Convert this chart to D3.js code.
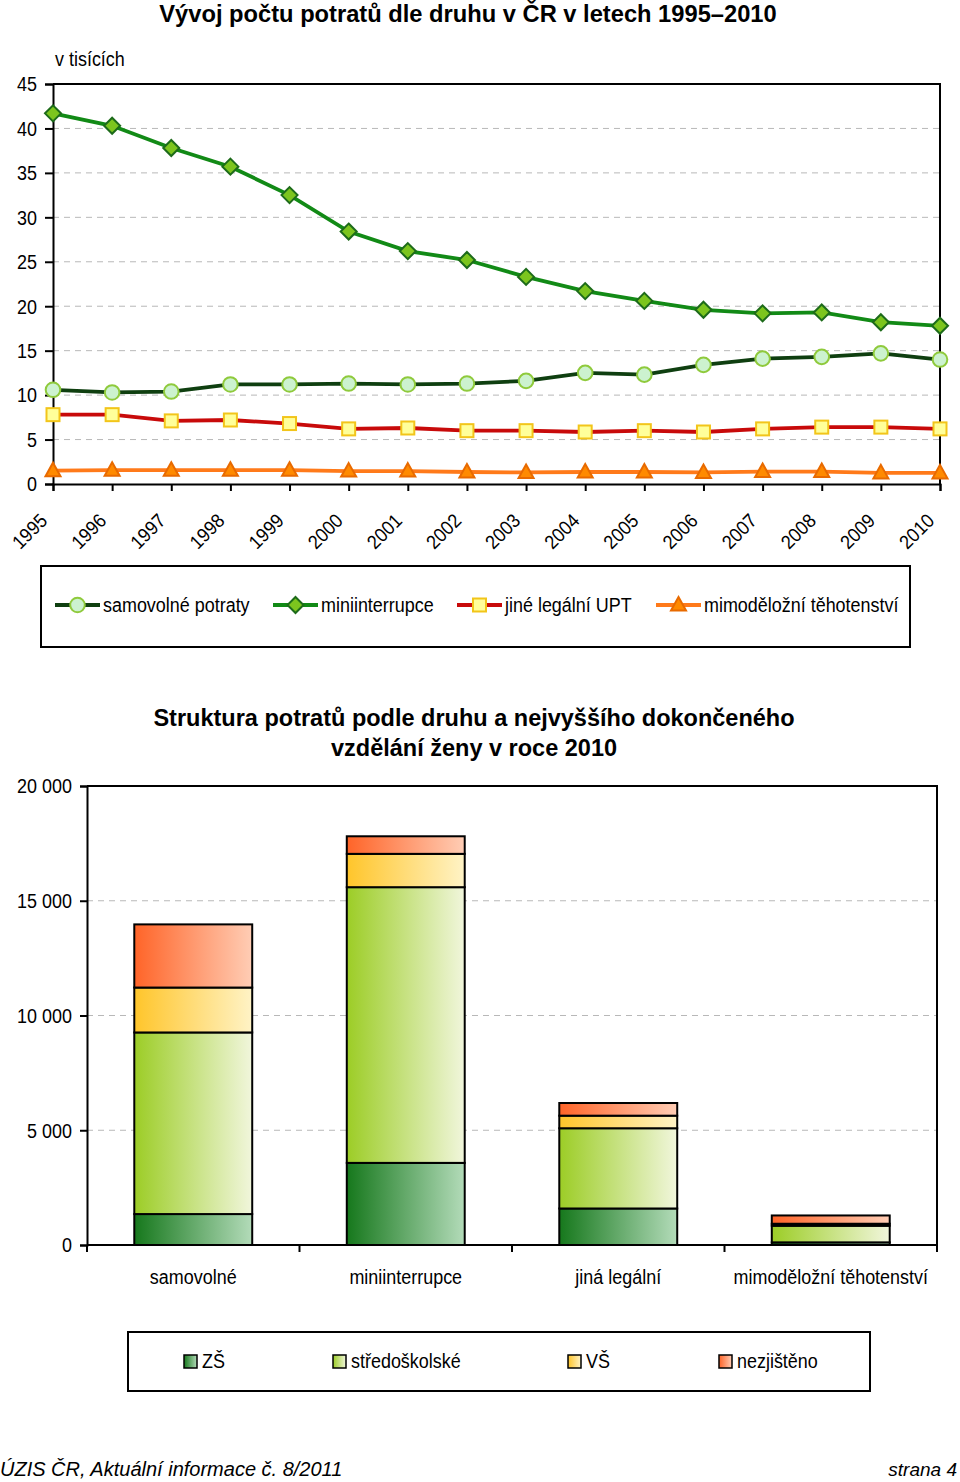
<!DOCTYPE html>
<html><head><meta charset="utf-8">
<script src="https://cdn.jsdelivr.net/npm/d3@7"></script>
<style>
body{margin:0;background:#fff;}
svg{display:block;}
.nar{font-family:"Liberation Sans",Arial,sans-serif;}
.bold{font-family:"Liberation Sans",Arial,sans-serif;font-weight:bold;}
</style></head>
<body>
<svg id="c" width="960" height="1482"></svg>
<script>
// ---------- DATA ----------
const years = [1995,1996,1997,1998,1999,2000,2001,2002,2003,2004,2005,2006,2007,2008,2009,2010];
const samovolne = [10.6,10.3,10.4,11.2,11.2,11.3,11.2,11.3,11.6,12.5,12.3,13.4,14.1,14.3,14.7,14.0];
const miniinterrupce = [41.7,40.3,37.8,35.7,32.5,28.4,26.2,25.2,23.3,21.7,20.6,19.6,19.2,19.3,18.2,17.8];
const jineLegalni = [7.8,7.8,7.1,7.2,6.8,6.2,6.3,6.0,6.0,5.85,6.0,5.85,6.2,6.4,6.4,6.2];
const mimodelozni = [1.5,1.55,1.55,1.55,1.55,1.45,1.45,1.35,1.3,1.35,1.35,1.3,1.4,1.4,1.25,1.25];
const lineSeriesNames = ["samovolné potraty","miniinterrupce","jiné legální UPT","mimoděložní těhotenství"];
const yTicksTop = [0,5,10,15,20,25,30,35,40,45];

const barCategories = ["samovolné","miniinterrupce","jiná legální","mimoděložní těhotenství"];
const educNames = ["ZŠ","středoškolské","VŠ","nezjištěno"];
const zs = [1348,3578,1591,115];
const ss = [7913,12013,3496,724];
const vs = [1957,1452,548,87];
const nezj = [2752,766,552,361];
const yTicksBar = [0,5000,10000,15000,20000];

const svg = d3.select("#c");

// ---------- TOP CHART ----------
svg.append("text").attr("class","bold").attr("x",468).attr("y",22).attr("text-anchor","middle")
  .attr("font-size",23.7).attr("fill","#000").text("Vývoj počtu potratů dle druhu v ČR v letech 1995–2010");
svg.append("text").attr("class","nar").attr("x",55).attr("y",66).attr("font-size",19.5).text("v tisících");

const L = {l:53,r:940,t:84,b:484};
const x = d3.scalePoint().domain(years).range([L.l,L.r]);
const y = d3.scaleLinear().domain([0,45]).range([L.b,L.t]);

const gTop = svg.append("g");
gTop.selectAll("line.grid").data(yTicksTop.filter(d=>d>0&&d<45)).enter().append("line")
  .attr("x1",L.l).attr("x2",L.r).attr("y1",d=>y(d)).attr("y2",d=>y(d))
  .attr("stroke","#b8b8b8").attr("stroke-width",1).attr("stroke-dasharray","6,5");
gTop.append("path").attr("d",`M${L.l},${L.t}H${L.r}V${L.b}`).attr("fill","none").attr("stroke","#000").attr("stroke-width",2);

const yAxis = d3.axisLeft(y).tickValues(yTicksTop).tickSize(8).tickFormat(d3.format("d"));
const ya = gTop.append("g").attr("transform",`translate(${L.l},0)`).call(yAxis);
ya.select(".domain").attr("stroke","#000").attr("stroke-width",2);
ya.selectAll(".tick line").attr("stroke","#000").attr("stroke-width",2);
ya.selectAll(".tick text").attr("class","nar").attr("font-size",19.5).attr("fill","#000").attr("x",-16).attr("dy","0.35em");

const xAxis = d3.axisBottom(x).tickSize(7);
const xa = gTop.append("g").attr("transform",`translate(0,${L.b})`).call(xAxis);
xa.select(".domain").attr("stroke","#000").attr("stroke-width",2);
xa.selectAll(".tick line").attr("stroke","#000").attr("stroke-width",2);
xa.selectAll(".tick text").attr("class","nar").attr("font-size",19.5).attr("fill","#000")
  .attr("text-anchor","end").attr("transform","translate(-5,38) rotate(-45)").attr("x",0).attr("y",0).attr("dy",0);

const seriesDefs = [
  {name:lineSeriesNames[0], data:samovolne, line:"#0f3f10", sym:"circle", fill:"#ccf2cf", stroke:"#8fca3c"},
  {name:lineSeriesNames[1], data:miniinterrupce, line:"#128a16", sym:"diamond", fill:"#7cc51e", stroke:"#1d6b1a"},
  {name:lineSeriesNames[2], data:jineLegalni, line:"#c80a0a", sym:"square", fill:"#ffff9a", stroke:"#f2c51a"},
  {name:lineSeriesNames[3], data:mimodelozni, line:"#ff7a1a", sym:"triangle", fill:"#ff8a00", stroke:"#e86a00"}
];
function drawSym(g, sym, cx, cy){
  if(sym==="circle") g.append("circle").attr("cx",cx).attr("cy",cy).attr("r",7.3);
  else if(sym==="diamond") g.append("path").attr("d",`M${cx},${cy-8}L${cx+8},${cy}L${cx},${cy+8}L${cx-8},${cy}Z`);
  else if(sym==="square") g.append("rect").attr("x",cx-6.5).attr("y",cy-6.5).attr("width",13).attr("height",13);
  else g.append("path").attr("d",`M${cx},${cy-8}L${cx+7.5},${cy+5.5}L${cx-7.5},${cy+5.5}Z`);
}
const lineGen = d3.line().x((d,i)=>x(years[i])).y(d=>y(d));
seriesDefs.slice().reverse().forEach(s=>{
  gTop.append("path").attr("d",lineGen(s.data)).attr("fill","none").attr("stroke",s.line).attr("stroke-width",3.8);
  const mg = gTop.append("g").attr("fill",s.fill).attr("stroke",s.stroke).attr("stroke-width",2);
  s.data.forEach((v,i)=>drawSym(mg,s.sym,x(years[i]),y(v)));
});

// legend top
svg.append("rect").attr("x",41).attr("y",566).attr("width",869).attr("height",81).attr("fill","#fff").attr("stroke","#000").attr("stroke-width",2);
const legX = [55,273,457,656];
seriesDefs.forEach((s,i)=>{
  const g = svg.append("g");
  g.append("line").attr("x1",legX[i]).attr("x2",legX[i]+45).attr("y1",605).attr("y2",605).attr("stroke",s.line).attr("stroke-width",3.8);
  const mg = g.append("g").attr("fill",s.fill).attr("stroke",s.stroke).attr("stroke-width",2);
  drawSym(mg,s.sym,legX[i]+22.5,605);
  g.append("text").attr("class","nar").attr("x",legX[i]+48).attr("y",605).attr("dy","0.35em").attr("font-size",19.5).text(s.name);
});

// ---------- BAR CHART ----------
svg.append("text").attr("class","bold").attr("x",474).attr("y",726).attr("text-anchor","middle").attr("font-size",23.5).text("Struktura potratů podle druhu a nejvyššího dokončeného");
svg.append("text").attr("class","bold").attr("x",474).attr("y",756).attr("text-anchor","middle").attr("font-size",23.5).text("vzdělání ženy v roce 2010");

const B = {l:87,r:937,t:786,b:1245};
const xb = d3.scaleBand().domain(barCategories).range([B.l,B.r]).paddingInner(0.445).paddingOuter(0.2225);
const yb = d3.scaleLinear().domain([0,20000]).range([B.b,B.t]);

const defs = svg.append("defs");
const grads = [["#16781c","#b3dbb9"],["#9ccd26","#f1f6dc"],["#ffc52a","#fff3c6"],["#ff6428","#ffcdb5"]];
grads.forEach((c,i)=>{
  const gr = defs.append("linearGradient").attr("id","g"+i).attr("x1","0").attr("x2","1").attr("y1","0").attr("y2","0");
  gr.append("stop").attr("offset","0").attr("stop-color",c[0]);
  gr.append("stop").attr("offset","1").attr("stop-color",c[1]);
});

const gBar = svg.append("g");
gBar.selectAll("line.grid").data(yTicksBar.filter(d=>d>0&&d<20000)).enter().append("line")
  .attr("x1",B.l).attr("x2",B.r).attr("y1",d=>yb(d)).attr("y2",d=>yb(d))
  .attr("stroke","#b8b8b8").attr("stroke-width",1).attr("stroke-dasharray","6,5");
gBar.append("path").attr("d",`M${B.l},${B.t}H${B.r}V${B.b}`).attr("fill","none").attr("stroke","#000").attr("stroke-width",2);

const yba = gBar.append("g").attr("transform",`translate(${B.l},0)`)
  .call(d3.axisLeft(yb).tickValues(yTicksBar).tickSize(7).tickFormat(d=>d3.format(",")(d).replace(/,/g," ")));
yba.select(".domain").attr("stroke","#000").attr("stroke-width",2);
yba.selectAll(".tick line").attr("stroke","#000").attr("stroke-width",2);
yba.selectAll(".tick text").attr("class","nar").attr("font-size",19.5).attr("fill","#000").attr("x",-15).attr("dy","0.35em");

const stackData = barCategories.map((c,i)=>({cat:c, ZS:zs[i], SS:ss[i], VS:vs[i], NZ:nezj[i]}));
const stack = d3.stack().keys(["ZS","SS","VS","NZ"])(stackData);
stack.forEach((layer,k)=>{
  gBar.selectAll(null).data(layer).enter().append("rect")
    .attr("x",d=>xb(d.data.cat)).attr("width",xb.bandwidth())
    .attr("y",d=>yb(d[1])).attr("height",d=>yb(d[0])-yb(d[1]))
    .attr("fill",`url(#g${k})`).attr("stroke","#000").attr("stroke-width",2);
});

gBar.append("line").attr("x1",B.l).attr("x2",B.r).attr("y1",B.b).attr("y2",B.b).attr("stroke","#000").attr("stroke-width",2);
const step = xb.step();
const bounds = barCategories.map(c=>xb(c) - (step-xb.bandwidth())/2).concat([B.r]);
gBar.selectAll(null).data(bounds).enter().append("line")
  .attr("x1",d=>d).attr("x2",d=>d).attr("y1",B.b).attr("y2",B.b+7).attr("stroke","#000").attr("stroke-width",2);
gBar.selectAll(null).data(barCategories).enter().append("text").attr("class","nar")
  .attr("x",d=>xb(d)+xb.bandwidth()/2).attr("y",1284).attr("text-anchor","middle").attr("font-size",19.5).text(d=>d);

// bar legend
svg.append("rect").attr("x",128).attr("y",1332).attr("width",742).attr("height",59).attr("fill","#fff").attr("stroke","#000").attr("stroke-width",2);
const legBX = [184,333,568,719];
educNames.forEach((n,i)=>{
  svg.append("rect").attr("x",legBX[i]).attr("y",1355).attr("width",13).attr("height",13).attr("fill",`url(#g${i})`).attr("stroke","#000").attr("stroke-width",1.5);
  svg.append("text").attr("class","nar").attr("x",legBX[i]+18).attr("y",1361).attr("dy","0.35em").attr("font-size",19.5).text(n);
});

// condense the "narrow" texts (Arial Narrow look)
svg.selectAll("text.nar").each(function(){
  const len = this.getComputedTextLength();
  d3.select(this).attr("textLength",len*0.92).attr("lengthAdjust","spacingAndGlyphs");
});

// footer
svg.append("text").attr("class","nar").attr("x",0).attr("y",1476).attr("font-size",20).attr("font-style","italic").text("ÚZIS ČR, Aktuální informace č. 8/2011");
svg.append("text").attr("class","nar").attr("x",957).attr("y",1476).attr("text-anchor","end").attr("font-size",19).attr("font-style","italic").text("strana 4");
</script>
</body></html>
